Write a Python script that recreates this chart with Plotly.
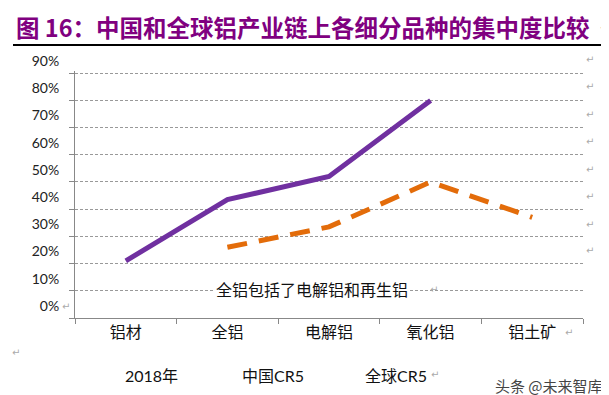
import plotly.graph_objects as go

# ---- data ----
categories = ["铝材", "全铝", "电解铝", "氧化铝", "铝土矿"]
china_cr5 = [0.21, 0.435, 0.52, 0.80, None]
global_cr5 = [None, 0.26, 0.335, 0.50, 0.37]
y_tick_vals = [0, 0.1, 0.2, 0.3, 0.4, 0.5, 0.6, 0.7, 0.8, 0.9]
y_tick_text = ["0%", "10%", "20%", "30%", "40%", "50%", "60%", "70%", "80%", "90%"]
title_text = "<b>图 16：中国和全球铝产业链上各细分品种的集中度比较</b>"
note_text = "全铝包括了电解铝和再生铝"
legend_items = ["2018年", "中国CR5", "全球CR5"]
watermark = "头条 @未来智库"

W, H = 609, 395
L, R, T, B = 67, 34, 63, 85
PW, PH = W - L - R, H - T - B

def px(x):
    return (x - L) / PW

def py(y):
    return (H - B - y) / PH

FONT = "Lato, 'Noto Sans CJK SC', sans-serif"
CJK = "'Noto Sans CJK SC', sans-serif"

fig = go.Figure()
fig.add_trace(go.Scatter(
    x=categories, y=china_cr5, mode="lines", name="中国CR5",
    line=dict(color="#7030A0", width=5), connectgaps=False,
))
fig.add_trace(go.Scatter(
    x=categories, y=global_cr5, mode="lines", name="全球CR5",
    line=dict(color="#E36C0A", width=5, dash="20px,12px"), connectgaps=False,
))

annotations = []
# title
annotations.append(dict(
    text=title_text, xref="paper", yref="paper", x=px(6), y=py(19),
    xanchor="left", yanchor="middle", showarrow=False,
    font=dict(family=CJK, size=23.5, color="#800080"),
))
# note inside chart
annotations.append(dict(
    text=note_text, xref="paper", yref="paper", x=px(304), y=py(281),
    xanchor="center", yanchor="middle", showarrow=False, bgcolor="white",
    font=dict(family=CJK, size=16, color="#111"),
))
# legend-like texts
for txt, xc in zip(legend_items, [143, 265, 388]):
    annotations.append(dict(
        text=txt, xref="paper", yref="paper", x=px(xc), y=py(367),
        xanchor="center", yanchor="middle", showarrow=False,
        font=dict(family=FONT, size=16, color="#111"),
    ))
# watermark
annotations.append(dict(
    text=watermark, xref="paper", yref="paper", x=px(541), y=py(377),
    xanchor="center", yanchor="middle", showarrow=False,
    font=dict(family=CJK, size=15, color="#444"),
))
# paragraph marks
marks = [(8, 344), (426, 281), (582, 52), (582, 79), (582, 106), (582, 133),
         (582, 161), (582, 188), (582, 216), (582, 242), (561, 324), (427, 366), (58, 298),
         (596, 19)]
for mx, my in marks:
    annotations.append(dict(
        text="↵", xref="paper", yref="paper", x=px(mx), y=py(my),
        xanchor="center", yanchor="middle", showarrow=False,
        font=dict(family="DejaVu Sans", size=10, color="#aaa"),
    ))

fig.update_layout(
    width=W, height=H,
    margin=dict(l=L, r=R, t=T, b=B),
    paper_bgcolor="white", plot_bgcolor="white",
    showlegend=False,
    annotations=annotations,
    shapes=[dict(type="line", xref="paper", yref="paper",
                 x0=px(5), x1=px(598), y0=py(37), y1=py(37),
                 line=dict(color="black", width=2))],
    font=dict(family=FONT, color="#111"),
)
fig.update_xaxes(
    type="category", showline=True, linecolor="#888", linewidth=1,
    ticks="outside", ticklen=5, tickcolor="#888", tickson="boundaries",
    showgrid=False, tickfont=dict(family=CJK, size=16, color="#111"),
    range=[-0.5, 4.5],
)
fig.update_yaxes(
    range=[0, 0.908], tickvals=y_tick_vals, ticktext=y_tick_text,
    showline=True, linecolor="#888", linewidth=1,
    ticks="outside", ticklen=5, tickcolor="#888",
    showgrid=True, gridcolor="#999", gridwidth=1, griddash="3px,2px",
    zeroline=False, ticklabelshift=-12, ticklabelstandoff=7,
    tickfont=dict(family=FONT, size=14, color="#222"),
)

fig.write_html("out.html")
